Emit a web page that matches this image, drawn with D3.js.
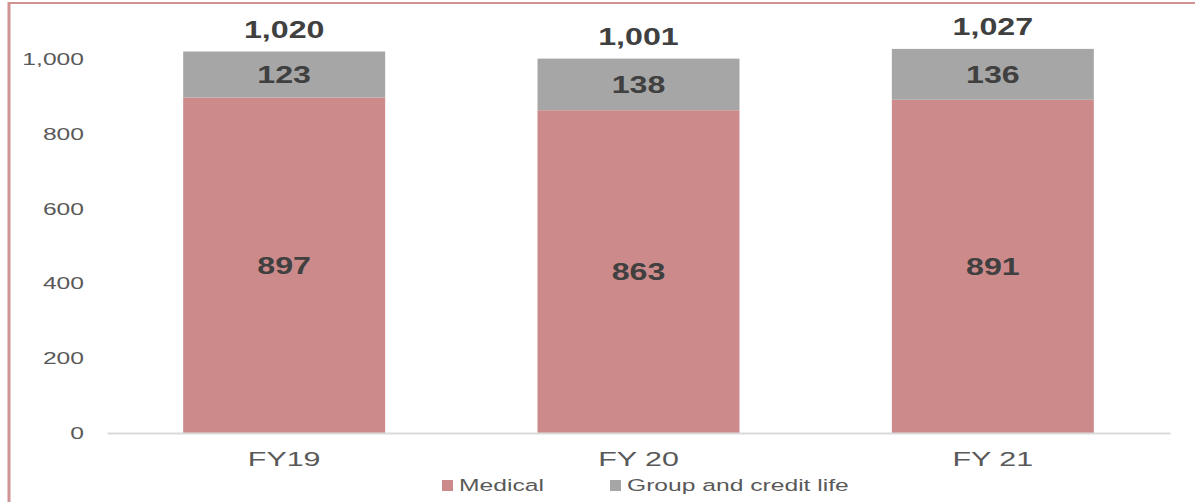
<!DOCTYPE html>
<html>
<head>
<meta charset="utf-8">
<script src="https://cdn.jsdelivr.net/npm/d3@7"></script>
<style>
  body { margin: 0; background: #fff; }
  svg { display: block; font-family: "Liberation Sans", Arial, sans-serif; }
</style>
</head>
<body>
<div id="chart"></div>
<script>
var categories = ["FY19", "FY 20", "FY 21"];
var medical = [897, 863, 891];
var groupCredit = [123, 138, 136];
var totals = [1020, 1001, 1027];
var seriesNames = ["Medical", "Group and credit life"];
var yTicks = [0, 200, 400, 600, 800, 1000];

var width = 1195, height = 502;
var margin = { top: 59, right: 25, bottom: 69, left: 107 };
var stretch = 1.45; // the source text is drawn wide

var svg = d3.select("#chart").append("svg")
  .attr("width", width).attr("height", height);

// frame lines
svg.append("line").attr("x1", 9).attr("x2", 9).attr("y1", 2).attr("y2", height)
  .attr("stroke", "#d09494").attr("stroke-width", 3);
svg.append("line").attr("x1", 8).attr("x2", width).attr("y1", 3).attr("y2", 3)
  .attr("stroke", "#d09494").attr("stroke-width", 2);

var x = d3.scaleBand().domain(categories)
  .range([margin.left, width - margin.right])
  .paddingInner(0.43).paddingOuter(0.215);
var y = d3.scaleLinear().domain([0, 1000])
  .range([height - margin.bottom, margin.top]);

var rows = categories.map(function(c, i) {
  return { cat: c, medical: medical[i], group: groupCredit[i], total: totals[i] };
});
var stack = d3.stack().keys(["medical", "group"])(rows);
var colors = { medical: "#cd8a8a", group: "#a6a6a6" };

function wide(sel, k) {
  k = k || stretch;
  sel.attr("transform", function() {
    var t = d3.select(this).attr("data-t") || "";
    return t + " scale(" + k + ",1)";
  });
}

// y axis labels
var yAxis = d3.axisLeft(y).tickValues(yTicks).tickSize(0).tickPadding(0)
  .tickFormat(d3.format(","));
svg.append("g").attr("transform", "translate(84,0)").call(yAxis)
  .call(function(g) { g.select(".domain").remove(); })
  .selectAll("text").attr("fill", "#595959").attr("font-size", 17)
  .attr("font-family", "Liberation Sans, Arial, sans-serif")
  .call(wide);

// bars
stack.forEach(function(layer) {
  svg.append("g").selectAll("rect").data(layer).enter().append("rect")
    .attr("x", function(d) { return x(d.data.cat); })
    .attr("width", x.bandwidth())
    .attr("y", function(d) { return y(d[1]); })
    .attr("height", function(d) { return y(d[0]) - y(d[1]); })
    .attr("fill", colors[layer.key]);
  svg.append("g").selectAll("text").data(layer).enter().append("text")
    .attr("data-t", function(d) {
      return "translate(" + (x(d.data.cat) + x.bandwidth() / 2) + "," + ((y(d[0]) + y(d[1])) / 2) + ")";
    })
    .attr("dy", "0.36em").attr("text-anchor", "middle")
    .attr("font-size", 23).attr("font-weight", "bold").attr("fill", "#404040")
    .text(function(d) { return d3.format(",")(d[1] - d[0]); })
    .call(wide, 1.4);
});

// totals
svg.append("g").selectAll("text").data(rows).enter().append("text")
  .attr("data-t", function(d) {
    return "translate(" + (x(d.cat) + x.bandwidth() / 2) + "," + (y(d.total) - 14) + ")";
  })
  .attr("text-anchor", "middle")
  .attr("font-size", 23).attr("font-weight", "bold").attr("fill", "#404040")
  .text(function(d) { return d3.format(",")(d.total); })
  .call(wide, 1.4);

// x axis
var xAxis = d3.axisBottom(x).tickSize(0).tickPadding(18);
svg.append("g").attr("transform", "translate(0," + y(0) + ")").call(xAxis)
  .call(function(g) {
    g.select(".domain").attr("stroke", "#d9d9d9").attr("stroke-width", 2);
  })
  .selectAll("text").attr("fill", "#595959").attr("font-size", 21)
  .attr("font-family", "Liberation Sans, Arial, sans-serif")
  .call(wide);

// legend
var legendX = [442, 610];
var legend = svg.append("g").selectAll("g").data(seriesNames).enter().append("g")
  .attr("transform", function(d, i) { return "translate(" + legendX[i] + ",485)"; });
legend.append("rect").attr("x", 0).attr("y", -5).attr("width", 11).attr("height", 11)
  .attr("fill", function(d, i) { return i === 0 ? colors.medical : colors.group; });
legend.append("text").attr("data-t", "translate(17,0)").attr("dy", "0.36em")
  .attr("font-size", 17).attr("fill", "#595959")
  .text(function(d) { return d; })
  .call(wide);
</script>
</body>
</html>
